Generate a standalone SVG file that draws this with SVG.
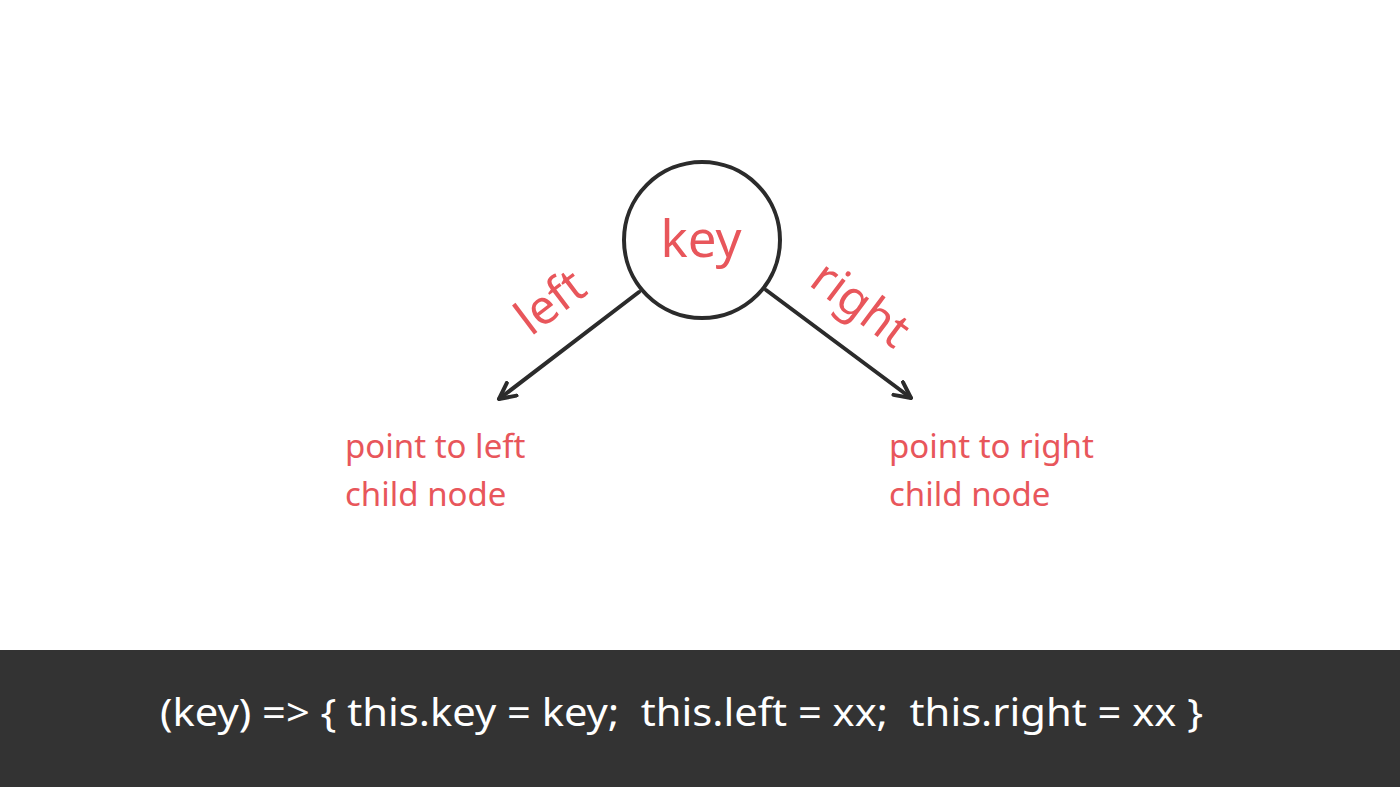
<svg xmlns="http://www.w3.org/2000/svg" width="1400" height="787" viewBox="0 0 1400 787">
<style>
.red{fill:#e8565b;font-family:"Noto Sans","Open Sans",sans-serif}
.edge{stroke:#2b2b2b;stroke-width:4;fill:none;stroke-linecap:round;stroke-linejoin:round}
.code{fill:#ffffff;font-family:"Noto Sans","Open Sans",sans-serif;font-size:39px}
</style>
<defs>
<marker id="arr" viewBox="0 0 20 20" refX="18" refY="10" markerWidth="20" markerHeight="20" markerUnits="userSpaceOnUse" orient="auto">
<path d="M2,2 L18,10 L2,18" fill="none" stroke="#2b2b2b" stroke-width="4" stroke-linecap="round" stroke-linejoin="round"/>
</marker>
</defs>
<rect width="1400" height="787" fill="#ffffff"/>
<g id="connectors">
<line class="edge" x1="639" y1="292" x2="499" y2="399" marker-end="url(#arr)"/>
<line class="edge" x1="766" y1="290" x2="911" y2="398" marker-end="url(#arr)"/>
<text class="red" font-size="48" text-anchor="middle" transform="translate(560,315) rotate(-37)">left</text>
<text class="red" font-size="48" text-anchor="middle" transform="translate(851,317) rotate(37)">right</text>
</g>
<g id="node-key">
<circle cx="702" cy="240" r="78" fill="#ffffff" stroke="#2b2b2b" stroke-width="4"/>
<text class="red" x="701" y="257" font-size="51" text-anchor="middle">key</text>
</g>
<g id="label-left">
<text class="red" x="345" y="458" font-size="33">point to left</text>
<text class="red" x="345" y="506" font-size="33">child node</text>
</g>
<g id="label-right">
<text class="red" x="889" y="458" font-size="33">point to right</text>
<text class="red" x="889" y="506" font-size="33">child node</text>
</g>
<g id="code-bar">
<rect x="0" y="650" width="1400" height="137" fill="#333333"/>
<text class="code" x="160" y="726" textLength="1043" lengthAdjust="spacingAndGlyphs" xml:space="preserve">(key) =&gt; { this.key = key;  this.left = xx;  this.right = xx }</text>
</g>
</svg>
